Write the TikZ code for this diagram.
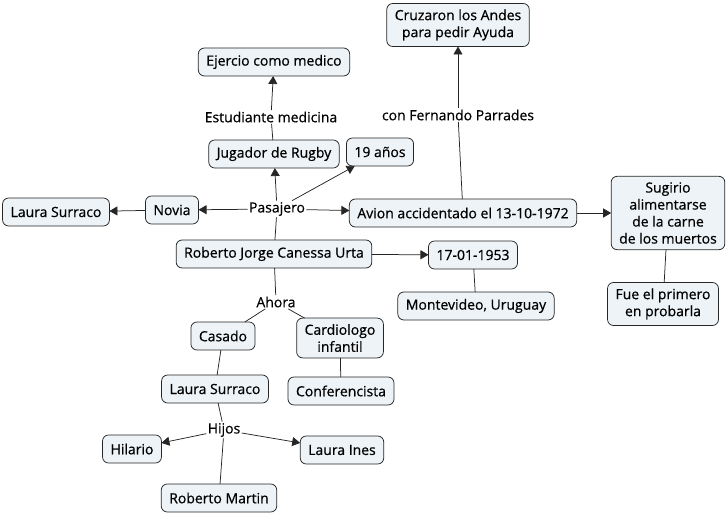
\documentclass[tikz,border=0pt]{standalone}
\usepackage{fontspec}
\setmainfont{Open Sans}[FakeBold = 0.6]
\usepackage{tikz,tkz-graph}
\usetikzlibrary{arrows.meta}
\definecolor{conceptFill}{RGB}{237,243,246}
\tikzstyle{concept}=[shape = rectangle, rounded corners = 6pt, draw = black!85, fill = conceptFill, line width = 0.75pt, inner xsep = 8pt, inner ysep = 6pt, minimum height = 28pt, align = center, font = \fontsize{14}{17}\selectfont]
\tikzstyle{linking}=[shape = rectangle, inner sep = 1.5pt, font = \fontsize{14}{17}\selectfont]
\tikzstyle{arrowEdge}=[-{Triangle[length = 8pt, width = 9pt]}]

\begin{document}
\begin{tikzpicture}[x = 1pt, y = -1pt]
\tikzstyle{VertexStyle} = []
\tikzstyle{EdgeStyle} = [line width = 0.75pt, draw = black!85]
\useasboundingbox (0,0) rectangle (726,513);
\Vertex[style = concept, x = 274, y = 254, L = {Roberto Jorge Canessa Urta}]{rob}
\Vertex[style = linking, x = 277, y = 209, L = {Pasajero}]{pas}
\Vertex[style = concept, x = 274, y = 154, L = {Jugador de Rugby}]{rug}
\Vertex[style = linking, x = 271, y = 117, L = {Estudiante medicina}]{est}
\Vertex[style = concept, x = 274, y = 62, L = {Ejercio como medico}]{med}
\Vertex[style = concept, x = 380, y = 152, L = {19 años}]{edad}
\Vertex[style = concept, x = 172, y = 210, L = {Novia}]{nov}
\Vertex[style = concept, x = 56, y = 212, L = {Laura Surraco}]{lau}
\Vertex[style = concept, x = 463, y = 213, L = {Avion accidentado el 13-10-1972}]{avi}
\Vertex[style = linking, x = 458, y = 115, L = {con Fernando Parrades}]{fer}
\Vertex[style = concept, x = 458, y = 25, L = {Cruzaron los Andes\\para pedir Ayuda}]{and}
\Vertex[style = concept, x = 668, y = 213, L = {Sugirio\\alimentarse\\de la carne\\de los muertos}]{sug}
\Vertex[style = concept, x = 663, y = 304, L = {Fue el primero\\en probarla}]{fue}
\Vertex[style = concept, x = 473, y = 255, L = {17-01-1953}]{nac}
\Vertex[style = concept, x = 476, y = 306, L = {Montevideo, Uruguay}]{mon}
\Vertex[style = linking, x = 276, y = 302, L = {Ahora}]{aho}
\Vertex[style = concept, x = 223, y = 336, L = {Casado}]{cas}
\Vertex[style = concept, x = 340, y = 338, L = {Cardiologo\\infantil}]{car}
\Vertex[style = concept, x = 341, y = 391, L = {Conferencista}]{con}
\Vertex[style = concept, x = 215, y = 389, L = {Laura Surraco}]{esp}
\Vertex[style = linking, x = 224, y = 430, L = {Hijos}]{hij}
\Vertex[style = concept, x = 132, y = 449, L = {Hilario}]{hil}
\Vertex[style = concept, x = 342, y = 450, L = {Laura Ines}]{ine}
\Vertex[style = concept, x = 219, y = 498, L = {Roberto Martin}]{mar}
\Edge(rob)(pas)
\Edge[style = arrowEdge](pas)(rug)
\Edge[style = arrowEdge](pas)(edad)
\Edge[style = arrowEdge](pas)(nov)
\Edge[style = arrowEdge](pas)(avi)
\Edge[style = arrowEdge](nov)(lau)
\Edge(rug)(est)
\Edge[style = arrowEdge](est)(med)
\Edge(avi)(fer)
\Edge[style = arrowEdge](fer)(and)
\Edge[style = arrowEdge](avi)(sug)
\Edge(sug)(fue)
\Edge[style = arrowEdge](rob)(nac)
\Edge(nac)(mon)
\Edge(rob)(aho)
\Edge(aho)(cas)
\Edge(aho)(car)
\Edge(car)(con)
\Edge(cas)(esp)
\Edge(esp)(hij)
\Edge[style = arrowEdge](hij)(hil)
\Edge[style = arrowEdge](hij)(ine)
\Edge(hij)(mar)
\end{tikzpicture}
\end{document}
